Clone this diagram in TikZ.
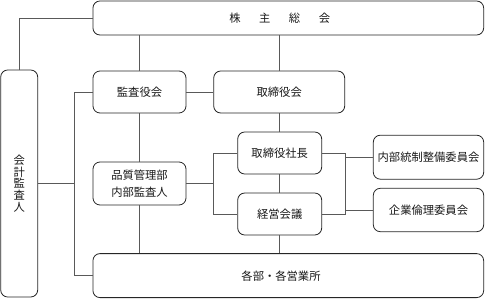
\documentclass[tikz,border=0pt]{standalone}
\usepackage{fontspec}
\setmainfont{Noto Sans CJK JP}
\begin{document}
\begin{tikzpicture}[x=1pt,y=-1pt,
  box/.style={draw=black!85, line width=0.8pt, rounded corners=7pt, fill=white,
    inner sep=0pt, text=black!90, font=\fontsize{11.3}{11.8}\selectfont, align=center},
  lbl/.style={inner sep=0pt, text=black!90, font=\fontsize{11.3}{11.8}\selectfont},
  conn/.style={draw=black!65, line width=0.8pt}]
\useasboundingbox (0,0) rectangle (486,299);
% boxes
\node[box, minimum width=390.7pt, minimum height=34pt] (top) at (288.3,18) {};
\node[lbl] (toptext) at (279.7,18.5) {株\hspace{18.5pt}主\hspace{18.5pt}総\hspace{18.5pt}会};
\node[box, minimum width=37pt, minimum height=227pt] (kaikei) at (19.2,183.5) {会\\計\\監\\査\\人};
\node[box, minimum width=93pt, minimum height=42pt] (kansa) at (139.5,92) {監査役会};
\node[box, minimum width=131pt, minimum height=42pt] (tori) at (279.2,92) {取締役会};
\node[box, minimum width=93pt, minimum height=43pt, font=\fontsize{11.3}{16.7}\selectfont] (hin) at (139.5,183.5) {品質管理部\\内部監査人};
\node[box, minimum width=84pt, minimum height=42pt] (shacho) at (279.7,153) {取締役社長};
\node[box, minimum width=84pt, minimum height=42pt] (keiei) at (279.7,214) {経営会議};
\node[box, minimum width=110.4pt, minimum height=44pt] (naibu) at (428.5,157.2) {内部統制整備委員会};
\node[box, minimum width=110.4pt, minimum height=43.4pt] (kigyo) at (428.5,210) {企業倫理委員会};
\node[box, minimum width=390.7pt, minimum height=44pt] (kakubu) at (288.3,275.6) {};
\node[lbl] (kakubutext) at (281,276) {各部・各営業所};
% helper coordinates
\coordinate (L) at (74,0);
\coordinate (B) at (213.7,0);
\coordinate (R) at (345,0);
% connectors
\draw[conn] (kaikei.north) |- (top.west);
\draw[conn] (top.south -| kansa.north) -- (kansa.north);
\draw[conn] (top.south -| tori.north) -- (tori.north);
\draw[conn] (kansa.east) -- (tori.west);
\draw[conn] (kansa.south) -- (hin.north);
\draw[conn] (hin.south) -- (hin.south |- kakubu.north);
\draw[conn] (kansa.west) -- (kansa.west -| L) |- (kakubu.west);
\draw[conn] (kaikei.east) -- (kaikei.east -| L);
\draw[conn] (tori.south) -- (tori.south |- shacho.north);
\draw[conn] (shacho.south) -- (keiei.north);
\draw[conn] (keiei.south) -- (keiei.south |- kakubu.north);
\draw[conn] (shacho.west) -- (shacho.west -| B) |- (keiei.west);
\draw[conn] (hin.east) -- (hin.east -| B);
\draw[conn] (shacho.east) -- (shacho.east -| R) |- (keiei.east);
\draw[conn] (naibu.west) -- (naibu.west -| R);
\draw[conn] (kigyo.west) -- (kigyo.west -| R);
\end{tikzpicture}
\end{document}
